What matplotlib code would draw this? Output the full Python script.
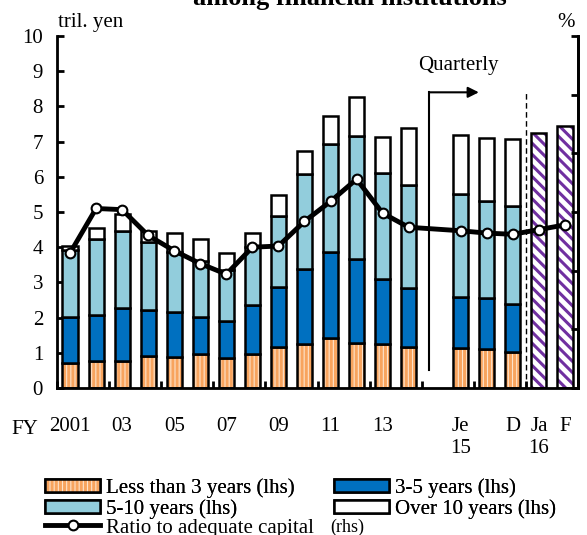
import numpy as np
import matplotlib
matplotlib.use("Agg")
import matplotlib.pyplot as plt
from matplotlib.patches import Patch
from matplotlib.lines import Line2D
from matplotlib.legend_handler import HandlerTuple

plt.rcParams["font.family"] = "Liberation Serif"
plt.rcParams["font.size"] = 15
plt.rcParams["hatch.linewidth"] = 2.2

# annual (FY2001-2014), quarterly (Jun/Sep/Dec 2015), monthly (Jan/Feb 2016)
periods = ["FY2001", "FY2002", "FY2003", "FY2004", "FY2005", "FY2006", "FY2007",
           "FY2008", "FY2009", "FY2010", "FY2011", "FY2012", "FY2013", "FY2014",
           "Je 15", "S 15", "D 15"]
monthly = ["Ja 16", "F 16"]

less3 = [0.72, 0.77, 0.78, 0.91, 0.89, 0.96, 0.84, 0.96, 1.17, 1.24, 1.43, 1.29,
         1.24, 1.17, 1.13, 1.10, 1.01]
y3to5 = [1.29, 1.30, 1.50, 1.31, 1.26, 1.07, 1.07, 1.39, 1.69, 2.14, 2.42, 2.37,
         1.87, 1.68, 1.46, 1.47, 1.39]
y5to10 = [1.91, 2.16, 2.19, 1.94, 1.72, 1.59, 1.44, 1.66, 2.04, 2.70, 3.07, 3.51,
          3.01, 2.93, 2.92, 2.74, 2.77]
over10 = [0.10, 0.32, 0.46, 0.31, 0.54, 0.60, 0.48, 0.40, 0.57, 0.66, 0.82, 1.11,
          1.02, 1.62, 1.69, 1.78, 1.89]
monthly_total = [7.25, 7.45]

# ratio to adequate capital (%), rhs
ratio = [11.5, 15.3, 15.2, 13.0, 11.7, 10.6, 9.7, 12.0, 12.1, 14.2, 15.9, 17.8,
         14.9, 13.7, 13.4, 13.2, 13.1, 13.5, 13.9]

xlabels = {0: "2001", 2: "03", 4: "05", 6: "07", 8: "09", 10: "11", 12: "13",
           15: "Je\n15", 17: "D", 18: "Ja\n16", 19: "F"}

# positions: one empty slot between annual and quarterly data
x_q = np.array(list(range(14)) + [15, 16, 17])
x_m = np.array([18, 19])
x_all = np.concatenate([x_q, x_m])

c_or = "#F8A45E"
c_dark = "#0070C0"
c_light = "#92CDDC"
c_pur = "#7030A0"
w = 0.58

fig = plt.figure(figsize=(5.87, 5.35), dpi=100)
ax = fig.add_axes([57/587, 1-388/535, (578-57)/587, (388-36)/535])

less3 = np.array(less3); y3to5 = np.array(y3to5)
y5to10 = np.array(y5to10); over10 = np.array(over10)

# hatched layer then outline
ax.bar(x_q, less3, w, color="#FDE3CB", edgecolor=c_or, hatch="||||", lw=0, zorder=2)
ax.bar(x_q, less3, w, fill=False, edgecolor="black", lw=1.8, zorder=3)
ax.bar(x_q, y3to5, w, bottom=less3, color=c_dark, edgecolor="black", lw=1.8, zorder=3)
ax.bar(x_q, y5to10, w, bottom=less3+y3to5, color=c_light, edgecolor="black", lw=1.8, zorder=3)
ax.bar(x_q, over10, w, bottom=less3+y3to5+y5to10, color="white", edgecolor="black", lw=1.8, zorder=3)
ax.bar(x_m, monthly_total, w, color="white", edgecolor=c_pur, hatch="\\\\\\", lw=0, zorder=2)
ax.bar(x_m, monthly_total, w, fill=False, edgecolor="black", lw=1.8, zorder=3)

ax.set_xlim(-0.5, 19.5)
ax.set_ylim(0, 10)
ax.set_yticks(range(0, 11))
ax.set_xticks(np.arange(-0.5, 20, 2))
ax.set_xticklabels([])
ax.set_xticks(list(xlabels.keys()), minor=True)
ax.set_xticklabels(list(xlabels.values()), minor=True)
ax.tick_params(axis="x", which="minor", length=0, pad=21)
ax.tick_params(axis="x", which="major", direction="in", length=5, width=2)
ax.tick_params(axis="y", direction="in", length=5, width=2, pad=10)
for s in ["left", "right", "bottom"]:
    ax.spines[s].set_linewidth(2)
ax.spines["top"].set_visible(False)

ax2 = ax.twinx()
ax2.set_ylim(0, 30)
ax2.set_yticks(range(0, 31, 5))
ax2.set_yticklabels([])
ax2.tick_params(axis="y", direction="in", length=5, width=2)
ax2.spines["top"].set_visible(False)
ax2.spines["right"].set_linewidth(2)
ax2.plot(x_all, ratio, color="black", lw=3.5, marker="o", ms=7,
         mfc="white", mec="black", mew=1.5, zorder=5)

# divider between quarterly and monthly, quarterly arrow
ax.plot([17.5, 17.5], [0, 8.4], color="black", lw=1, ls=(0, (4, 2.5)), zorder=4)
ax.plot([13.77, 13.77], [0.5, 8.4], color="black", lw=1.5, zorder=4)
ax.annotate("", xy=(15.8, 8.4), xytext=(13.72, 8.4),
            arrowprops=dict(arrowstyle="-|>", color="black", lw=1.5, mutation_scale=16))
ax.text(14.92, 9.15, "Quarterly", ha="center", va="center", fontsize=15)

fig.text(58/587, 1-27/535, "tril. yen", fontsize=15, va="baseline")
fig.text(566/587, 1-27/535, "%", fontsize=15, va="baseline", ha="center")
fig.text(11/587, 1-434/535, "FY", fontsize=15, va="baseline")
fig.text(350/587, 1-5/535, "among financial institutions", fontsize=19,
         fontweight="bold", ha="center", va="baseline")

h_less = (Patch(facecolor="#FDE3CB", edgecolor=c_or, hatch="||||", lw=0),
          Patch(fill=False, edgecolor="black", lw=1.8))
h_dark = Patch(facecolor=c_dark, edgecolor="black", lw=1.8)
h_light = Patch(facecolor=c_light, edgecolor="black", lw=1.8)
h_over = Patch(facecolor="white", edgecolor="black", lw=1.8)
leg = fig.legend([h_less, h_light, h_dark, h_over],
                 ["Less than 3 years (lhs)", "5-10 years (lhs)", "3-5 years (lhs)",
                  "Over 10 years (lhs)"],
                 handler_map={tuple: HandlerTuple(ndivide=1, pad=0)},
                 ncol=2, loc="upper left", bbox_to_anchor=(45/587, 1-478/535),
                 frameon=False, borderpad=0, borderaxespad=0, handlelength=2.65,
                 handleheight=0.6, handletextpad=0.3, columnspacing=1.85,
                 labelspacing=0.06, fontsize=15)
fig.add_artist(leg)
h_line = Line2D([], [], color="black", lw=3.5, marker="o", ms=7, mfc="white",
                mec="black", mew=1.5)
fig.legend([h_line], ["Ratio to adequate capital"], loc="upper left",
           bbox_to_anchor=(45/587, 1-518/535), frameon=False, borderpad=0,
           borderaxespad=0, handlelength=2.65, handletextpad=0.3, fontsize=15)
fig.text(330/587, 1-532/535, "(rhs)", fontsize=13, va="baseline")

fig.savefig("out.png", dpi=100)
